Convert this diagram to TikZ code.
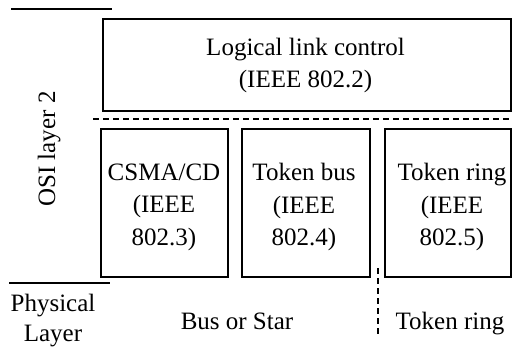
\documentclass[tikz,border=0pt]{standalone}
\usepackage{fontspec}
\setmainfont{Liberation Serif}
\begin{document}
\begin{tikzpicture}[x=0.5pt,y=-0.5pt,
  every node/.style={font=\fontsize{12.5pt}{16.25pt}\selectfont, inner sep=0pt},
  box/.style={draw, line width=0.8pt},
  txt/.style={align=center},
  rule/.style={line width=0.8pt},
  sep/.style={line width=0.8pt, dash pattern=on 3pt off 2pt}]
\useasboundingbox (0,0) rectangle (512,353);
% boxes
\node[box, minimum width=204pt, minimum height=46pt] (llc) at (307,65) {};
\node[box, minimum width=63.5pt, minimum height=74pt] (csma) at (164.5,203) {};
\node[box, minimum width=64pt, minimum height=74pt] (tbus) at (306,203) {};
\node[box, minimum width=63pt, minimum height=74pt] (tring) at (448,203) {};
% box texts
\node[txt] (llct) at (305.5,65.5) {Logical link control\\(IEEE 802.2)};
\node[txt] (csmat) at (164,207) {CSMA/CD\\(IEEE\\802.3)};
\node[txt] (tbust) at (304,207) {Token bus\\(IEEE\\802.4)};
\node[txt] (tringt) at (452,207) {Token ring\\(IEEE\\802.5)};
% labels
\node[rotate=90, anchor=base] (osi) at (55,149) {OSI layer 2};
\node[txt] (phys) at (53,320.5) {Physical\\[-1.25pt]Layer};
\node[anchor=base] (bus) at (237,329.5) {Bus or Star};
\node[anchor=base] (ring) at (450,329.5) {Token ring};
% rules
\coordinate (t1) at (11,9); \coordinate (t2) at (112,9);
\coordinate (b1) at (9,283); \coordinate (b2) at (110,283);
\coordinate (d1) at (93,119); \coordinate (d2) at (511,119);
\coordinate (v1) at (378,268); \coordinate (v2) at (378,335);
\draw[rule] (t1) -- (t2);
\draw[rule] (b1) -- (b2);
\draw[sep] (d1) -- (d2);
\draw[sep] (v1) -- (v2);
\end{tikzpicture}
\end{document}
